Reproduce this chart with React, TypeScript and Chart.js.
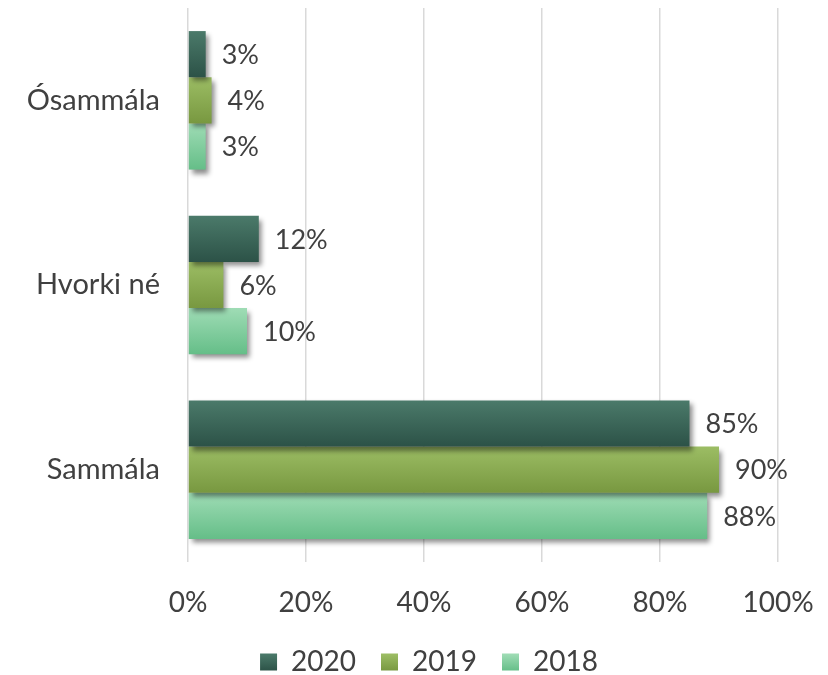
import React, { useEffect, useRef } from "react";
import { Chart, registerables } from "chart.js";

Chart.register(...registerables);

const categories = ["Ósammála", "Hvorki né", "Sammála"];
const seriesNames = ["2020", "2019", "2018"];
const values2020 = [3, 12, 85];
const values2019 = [4, 6, 90];
const values2018 = [3, 10, 88];
const xTicks = [0, 20, 40, 60, 80, 100];

const gradientStops: [string, string][] = [
  ["#4b7a6a", "#2c5247"],
  ["#9cbd64", "#789840"],
  ["#9fdcb5", "#65be88"],
];

const FONT = "Lato, 'Open Sans', sans-serif";
const TEXT = "#404040";
const CAT_PCT = 0.75;
const LEGEND_PAD = 25;
const LEGEND_SHIFT = 40;

export default function App() {
  const ref = useRef<HTMLCanvasElement | null>(null);

  useEffect(() => {
    document.body.style.margin = "0";
    const canvas = ref.current;
    if (!canvas) return;

    const makeBg = (di: number) => (ctx: any) => {
      const chart = ctx.chart;
      const y = chart.scales?.y;
      const idx = ctx.dataIndex;
      if (!y || idx === undefined || !chart.ctx) return gradientStops[di][1];
      const catH = (y.bottom - y.top) / categories.length;
      const center = y.getPixelForValue(idx);
      const groupH = catH * CAT_PCT;
      const barH = groupH / seriesNames.length;
      const top = center - groupH / 2 + di * barH;
      const g = chart.ctx.createLinearGradient(0, top, 0, top + barH);
      g.addColorStop(0, gradientStops[di][0]);
      g.addColorStop(1, gradientStops[di][1]);
      return g;
    };

    const shadowPlugin = {
      id: "barShadow",
      beforeDatasetDraw(chart: any) {
        const c = chart.ctx;
        c.save();
        c.shadowColor = "rgba(0,0,0,0.45)";
        c.shadowBlur = 5;
        c.shadowOffsetX = 3;
        c.shadowOffsetY = 4;
      },
      afterDatasetDraw(chart: any) {
        chart.ctx.restore();
      },
    };

    const legendShiftPlugin = {
      id: "legendShift",
      afterLayout(chart: any) {
        const lg = chart.legend;
        if (lg) {
          lg.left += LEGEND_SHIFT;
          lg.right += LEGEND_SHIFT;
        }
      },
    };

    const labelPlugin = {
      id: "valueLabels",
      afterDatasetsDraw(chart: any) {
        const c = chart.ctx;
        c.save();
        c.font = `27px ${FONT}`;
        c.fillStyle = TEXT;
        c.textAlign = "left";
        c.textBaseline = "middle";
        chart.data.datasets.forEach((ds: any, di: number) => {
          const meta = chart.getDatasetMeta(di);
          meta.data.forEach((el: any, i: number) => {
            c.fillText(`${ds.data[i]}%`, el.x + 16, el.y + 1);
          });
        });
        c.restore();
      },
    };

    const chart = new Chart(canvas, {
      type: "bar",
      data: {
        labels: categories,
        datasets: [
          { label: seriesNames[0], data: values2020, backgroundColor: makeBg(0) },
          { label: seriesNames[1], data: values2019, backgroundColor: makeBg(1) },
          { label: seriesNames[2], data: values2018, backgroundColor: makeBg(2) },
        ],
      },
      options: {
        indexAxis: "y",
        animation: false,
        responsive: false,
        maintainAspectRatio: false,
        layout: { padding: { top: 8, right: 50, left: 0, bottom: -11 } },
        datasets: {
          bar: { barPercentage: 1, categoryPercentage: CAT_PCT },
        },
        scales: {
          x: {
            min: 0,
            max: 100,
            afterBuildTicks: (s: any) => {
              s.ticks = xTicks.map((v) => ({ value: v }));
            },
            ticks: {
              callback: (v: any) => `${v}%`,
              font: { family: FONT, size: 28 },
              color: TEXT,
              padding: 24,
              maxRotation: 0,
            },
            grid: { color: "#d9d9d9", lineWidth: 1.5, drawTicks: false },
            border: { display: false },
            afterFit: (s: any) => {
              s.height = 86 - LEGEND_PAD;
              s.paddingLeft = 0;
              s.paddingRight = 0;
            },
          },
          y: {
            ticks: {
              font: { family: FONT, size: 29 },
              color: TEXT,
              padding: 28,
            },
            grid: { display: false, drawTicks: false },
            border: { display: false },
            afterFit: (s: any) => {
              s.width = 188;
              s.paddingTop = 0;
              s.paddingBottom = 0;
            },
          },
        },
        plugins: {
          legend: {
            position: "bottom",
            labels: {
              font: { family: FONT, size: 28 },
              color: TEXT,
              boxWidth: 17,
              boxHeight: 17,
              padding: LEGEND_PAD,
              generateLabels: (ch: any) =>
                seriesNames.map((n, i) => {
                  const g = ch.ctx.createLinearGradient(0, 654, 0, 671);
                  g.addColorStop(0, gradientStops[i][0]);
                  g.addColorStop(1, gradientStops[i][1]);
                  return {
                    text: n,
                    fillStyle: g,
                    strokeStyle: "rgba(0,0,0,0)",
                    lineWidth: 0,
                    fontColor: TEXT,
                    datasetIndex: i,
                    hidden: false,
                  };
                }),
            },
          },
          tooltip: { enabled: false },
        },
      },
      plugins: [shadowPlugin, labelPlugin, legendShiftPlugin],
    });

    return () => chart.destroy();
  }, []);

  return (
    <div style={{ width: 828, height: 675, position: "relative" }}>
      <canvas ref={ref} width={828} height={675} style={{ display: "block" }} />
    </div>
  );
}
